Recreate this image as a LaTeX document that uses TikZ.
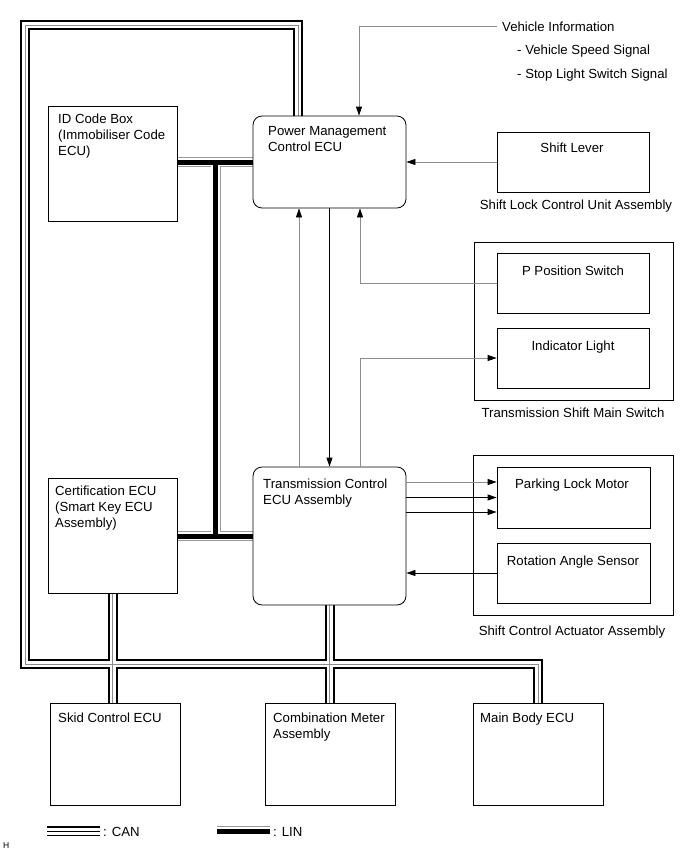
\documentclass[tikz,border=0pt]{standalone}
\usepackage{fontspec}
\setmainfont{Liberation Sans}
\usetikzlibrary{arrows.meta}
\pgfdeclarelayer{bg}
\pgfsetlayers{bg,main}
\newcommand\canroutes[1]{%
  \draw[#1] (cr) -- (cr |- ctl) -- (ctl) -- (cbl) -| (main.north);
  \draw[#1] (cert.south) -- (cert.south |- skid.north);
  \draw[#1] (tc.south) -- (tc.south |- comb.north);
}
\newcommand\linroutes[1]{%
  \draw[#1] (id.east |- pm.west) -- (pm.west);
  \draw[#1] (pm.west -| lx) -- (tc.west -| lx);
  \draw[#1] (cert.east |- tc.west) -- (tc.west);
}
\begin{document}
\begin{tikzpicture}[x=1pt,y=-1pt,
  box/.style={draw, line width=0.8pt, fill=white, inner sep=0pt},
  rbox/.style={box, rounded corners=9pt},
  txt/.style={font=\fontsize{13.2}{16}\selectfont, inner sep=0pt, align=left},
  ctxt/.style={font=\fontsize{13.2}{16}\selectfont, inner sep=0pt, anchor=base},
  arr/.style={line width=0.8pt, -{Triangle[length=9pt,width=6pt,color=black]}},
  garr/.style={arr, draw=black!45},
  canA/.style={line width=10pt, black},
  canB/.style={line width=6pt, white},
  canC/.style={line width=0.6pt, black!45},
  linA/.style={line width=10pt, black!40},
  linB/.style={line width=8.6pt, white},
  linC/.style={line width=5pt, black}]
\useasboundingbox (0,0) rectangle (691,855);

% ECU boxes
\node[box, minimum width=129pt, minimum height=115pt] (id) at (112.5,163.5) {};
\node[box, minimum width=129pt, minimum height=115pt] (cert) at (112.5,535.5) {};
\node[rbox, minimum width=153pt, minimum height=92pt] (pm) at (329.5,162) {};
\node[rbox, minimum width=153pt, minimum height=138pt] (tc) at (329.5,536) {};
\node[box, minimum width=130pt, minimum height=102pt] (skid) at (115,754) {};
\node[box, minimum width=130pt, minimum height=102pt] (comb) at (330,754) {};
\node[box, minimum width=130pt, minimum height=102pt] (main) at (538,754) {};
\node[box, minimum width=152pt, minimum height=60pt] (sl) at (573,162) {};
\node[box, minimum width=199pt, minimum height=158pt] (tsm) at (573.5,321) {};
\node[box, minimum width=152pt, minimum height=60pt] (ppos) at (573,283) {};
\node[box, minimum width=152pt, minimum height=60pt] (ind) at (573,358) {};
\node[box, minimum width=200pt, minimum height=160pt] (sca) at (573,535) {};
\node[box, minimum width=153pt, minimum height=61pt] (plm) at (573.5,497.5) {};
\node[box, minimum width=153pt, minimum height=60pt] (ras) at (573.5,573) {};

% texts
\node[txt, anchor=north west] (idt) at (58,111.8) {\strut ID Code Box\\\strut(Immobiliser Code\\\strut ECU)};
\node[txt, anchor=north west] (pmt) at (268,123.8) {\strut Power Management\\\strut Control ECU};
\node[txt, anchor=north west] (certt) at (55,483.8) {\strut Certification ECU\\\strut(Smart Key ECU\\\strut Assembly)};
\node[txt, anchor=north west] (tct) at (263,476.8) {\strut Transmission Control\\\strut ECU Assembly};
\node[txt, anchor=north west] (combt) at (273,710.8) {\strut Combination Meter\\\strut Assembly};
\node[txt, anchor=base west] (skidt) at (58,722) {Skid Control ECU};
\node[txt, anchor=base west] (maint) at (480,722) {Main Body ECU};
\node[ctxt] (slt) at (572,152) {Shift Lever};
\node[ctxt] (slat) at (576,209) {Shift Lock Control Unit Assembly};
\node[ctxt] (ppost) at (573,275) {P Position Switch};
\node[ctxt] (indt) at (573,350) {Indicator Light};
\node[ctxt] (tsmt) at (573,417) {Transmission Shift Main Switch};
\node[ctxt] (plmt) at (572,488) {Parking Lock Motor};
\node[ctxt] (rast) at (573,565) {Rotation Angle Sensor};
\node[ctxt] (scat) at (572,635) {Shift Control Actuator Assembly};
\node[txt, anchor=base west] (vi) at (502,31) {Vehicle Information};
\node[txt, anchor=base west] (vis) at (517,54.5) {- Vehicle Speed Signal};
\node[txt, anchor=base west] (vil) at (517,78) {- Stop Light Switch Signal};

% bus coordinates
\coordinate (ctl) at (25,25);
\coordinate (cbl) at (25,664);
\coordinate (cr) at ([xshift=-31.5pt]pm.north);
\coordinate (lx) at (215.5,0);

\begin{pgfonlayer}{bg}
  \canroutes{canA}
  \canroutes{canB}
  \canroutes{canC}
  \linroutes{linA}
  \linroutes{linB}
  \linroutes{linC}
\end{pgfonlayer}

% signal connectors
\coordinate (vin) at ([xshift=-5pt]vi.west);
\draw[garr] (vin) -| ([xshift=29.5pt]pm.north);
\draw[garr] (sl.west) -- (pm.east);
\draw[garr] (ppos.west) -| ([xshift=30.5pt]pm.south);
\draw[garr] ([xshift=-30.5pt]tc.north) -- ([xshift=-30.5pt]pm.south);
\draw[arr] (pm.south) -- (tc.north);
\draw[garr] ([xshift=30.5pt]tc.north) |- (ind.west);
\coordinate (m1) at ([yshift=15.5pt]plm.west);
\coordinate (m2) at (plm.west);
\coordinate (m3) at ([yshift=-14.5pt]plm.west);
\draw[garr] (m1 -| tc.east) -- (m1);
\draw[arr] (m2 -| tc.east) -- (m2);
\draw[arr] (m3 -| tc.east) -- (m3);
\draw[arr] (ras.west) -- (ras.west -| tc.east);

% legend
\node[txt, anchor=base west] (canl) at (103,836) {: CAN};
\node[txt, anchor=base west] (linl) at (273,836) {: LIN};
\coordinate (cane) at ([xshift=-3pt]canl.west);
\coordinate (line) at ([xshift=-3pt]linl.west);
\draw[line width=10pt, black] (cane) -- ++(-53,0);
\draw[line width=6.4pt, white] (cane) -- ++(-53,0);
\draw[line width=1.6pt, black] (cane) -- ++(-53,0);
\draw[linA] (line) -- ++(-53,0);
\draw[linB] (line) -- ++(-53,0);
\draw[linC] (line) -- ++(-53,0);
\node[font=\fontsize{8.5}{10}\selectfont, inner sep=0pt, anchor=base west] (hh) at (3,848) {H};
\end{tikzpicture}
\end{document}
